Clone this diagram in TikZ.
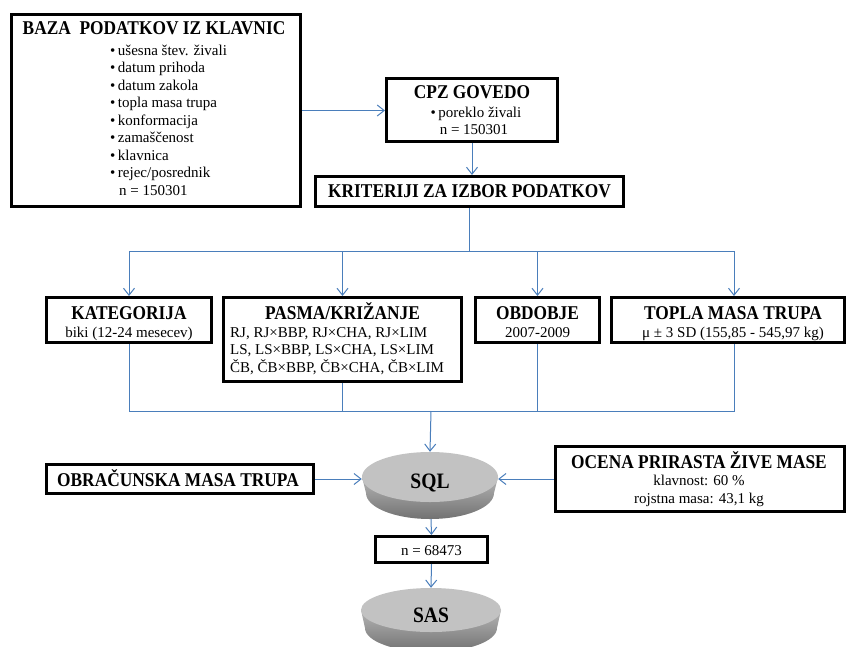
\documentclass[tikz,border=0pt]{standalone}
\usepackage{fontspec}
\setmainfont{Liberation Serif}
\newfontfamily\condfont[FakeStretch=0.89]{Liberation Serif}
\usetikzlibrary{arrows.meta,shapes.geometric,calc}
\definecolor{conncol}{HTML}{4A7EBB}
\definecolor{disktop}{HTML}{C2C2C2}
\definecolor{sidetop}{HTML}{B4B4B4}
\definecolor{sidebot}{HTML}{727272}
\tikzset{
 box/.style={draw=black, line width=3pt, fill=white, rectangle, inner sep=0},
 ttl/.style={font=\condfont\bfseries\fontsize{19.5}{22}\selectfont, inner sep=0, anchor=base},
 bigttl/.style={font=\condfont\bfseries\fontsize{22}{24}\selectfont, inner sep=0, anchor=base},
 body/.style={font=\fontsize{15}{17.5}\selectfont, inner sep=0, anchor=base},
 lbody/.style={body, anchor=base west},
 conn/.style={draw=conncol, line width=1pt},
 arr/.style={conn, -{Straight Barb[length=7pt,width=11pt,line width=1pt]}},
 disk/.style={ellipse, fill=disktop, draw=none, inner sep=0},
}
\begin{document}
\begin{tikzpicture}[x=1pt,y=-1pt]
\useasboundingbox (0,0) rectangle (846,646);
\clip (0,0) rectangle (846,646);
\fill[white] (0,0) rectangle (846,646);

% boxes
\node[box, minimum width=289pt, minimum height=192pt] (baza) at (156,110.5) {};
\node[box, minimum width=171pt, minimum height=63pt] (cpz) at (472,110) {};
\node[box, minimum width=308pt, minimum height=30pt] (krit) at (469.5,191.5) {};
\node[box, minimum width=165pt, minimum height=45pt] (kat) at (129,320) {};
\node[box, minimum width=238pt, minimum height=84pt] (pasma) at (342.5,339.5) {};
\node[box, minimum width=124pt, minimum height=45pt] (obd) at (537.5,320) {};
\node[box, minimum width=233pt, minimum height=45pt] (topla) at (728,320) {};
\node[box, minimum width=267pt, minimum height=29pt] (obr) at (180,479) {};
\node[box, minimum width=289pt, minimum height=65pt] (ocena) at (700,479) {};
\node[box, minimum width=112pt, minimum height=26pt] (nbox) at (431.5,549.5) {};

% BAZA text
\node[ttl] (bazat) at (154,34) {BAZA\ \ PODATKOV IZ KLAVNIC};
\node[lbody] (b1) at (110,55) {•\,ušesna štev. živali};
\node[lbody] (b2) at (110,72.5) {•\,datum prihoda};
\node[lbody] (b3) at (110,90) {•\,datum zakola};
\node[lbody] (b4) at (110,107.5) {•\,topla masa trupa};
\node[lbody] (b5) at (110,125) {•\,konformacija};
\node[lbody] (b6) at (110,142.5) {•\,zamaščenost};
\node[lbody] (b7) at (110,160) {•\,klavnica};
\node[lbody] (b8) at (110,177.5) {•\,rejec/posrednik};
\node[lbody] (b9) at (119,195) {n = 150301};

% CPZ text
\node[ttl] (cpzt) at (472,98) {CPZ GOVEDO};
\node[body] (cpz1) at (476,117) {•\,poreklo živali};
\node[body] (cpz2) at (474,134) {n = 150301};

\node[ttl] (kritt) at (469.5,197) {KRITERIJI ZA IZBOR PODATKOV};

\node[ttl] (katt) at (129,319) {KATEGORIJA};
\node[body] (kat1) at (129,337) {biki (12-24 mesecev)};

\node[ttl] (pasmat) at (342.5,319) {PASMA/KRIŽANJE};
\node[lbody] (p1) at (230,337) {RJ, RJ×BBP, RJ×CHA, RJ×LIM};
\node[lbody] (p2) at (230,354.5) {LS, LS×BBP, LS×CHA, LS×LIM};
\node[lbody] (p3) at (230,372) {ČB, ČB×BBP, ČB×CHA, ČB×LIM};

\node[ttl] (obdt) at (537.5,319) {OBDOBJE};
\node[body] (obd1) at (537.5,337) {2007-2009};

\node[ttl] (toplat) at (733,319) {TOPLA MASA TRUPA};
\node[body] (topla1) at (733,337) {μ ± 3 SD (155,85 - 545,97 kg)};

\node[ttl] (obrt) at (178,486) {OBRAČUNSKA MASA TRUPA};

\node[ttl] (ocenat) at (699,468) {OCENA PRIRASTA ŽIVE MASE};
\node[body] (ocena1) at (699,485.5) {klavnost: 60 \%};
\node[body] (ocena2) at (699,503) {rojstna masa: 43,1 kg};

\node[body] (nt) at (431.5,555) {n = 68473};

% SQL disk
\shade[top color=sidetop, bottom color=sidebot]
  (362,477) -- (366,493) arc[start angle=180, end angle=0, x radius=64, y radius=26] -- (498,477) -- cycle;
\node[disk, minimum width=136pt, minimum height=50pt] (sql) at (430,477) {};
\node[bigttl] (sqlt) at (430,488) {SQL};
\coordinate (sqlbot) at (431,519);

% SAS disk
\shade[top color=sidetop, bottom color=sidebot]
  (361,610) -- (365,628) arc[start angle=180, end angle=0, x radius=66, y radius=24] -- (501,610) -- cycle;
\node[disk, minimum width=140pt, minimum height=44pt] (sas) at (431,610) {};
\node[bigttl] (sast) at (431,622) {SAS};

% connectors
\draw[arr] (baza.east) -- (baza.east -| cpz.west);
\draw[arr] (cpz.south) -- (cpz.south |- krit.north);

\coordinate (dist) at (469.5,251);
\coordinate (coll) at (431,411);
\coordinate (tx) at ($(topla.north)+(6,0)$);
\coordinate (tb) at ($(topla.south)+(6,0)$);
\draw[conn] (krit.south) -- (dist);
\draw[conn] (kat.north |- dist) -- (tx |- dist);
\draw[arr] (kat.north |- dist) -- (kat.north);
\draw[arr] (pasma.north |- dist) -- (pasma.north);
\draw[arr] (obd.north |- dist) -- (obd.north);
\draw[arr] (tx |- dist) -- (tx);

\draw[conn] (kat.south) -- (kat.south |- coll) -- (tb |- coll) -- (tb);
\draw[conn] (pasma.south) -- (pasma.south |- coll);
\draw[conn] (obd.south) -- (obd.south |- coll);
\draw[arr] (coll) -- (sql.north);

\draw[arr] (obr.east) -- (obr.east -| sql.west);
\draw[arr] (ocena.west) -- (ocena.west -| sql.east);
\draw[arr] (sqlbot) -- (nbox.north);
\draw[arr] (nbox.south) -- (sas.north);
\end{tikzpicture}
\end{document}
